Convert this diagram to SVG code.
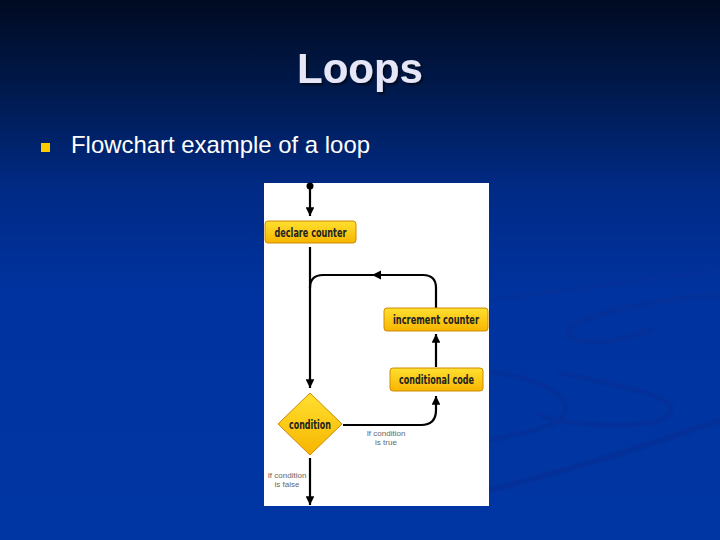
<svg xmlns="http://www.w3.org/2000/svg" width="720" height="540" viewBox="0 0 720 540">
<defs>
<linearGradient id="bg" x1="0" y1="0" x2="0" y2="1">
<stop offset="0" stop-color="#000a22"/>
<stop offset="0.15" stop-color="#001848"/>
<stop offset="0.35" stop-color="#002a85"/>
<stop offset="0.55" stop-color="#0033a0"/>
<stop offset="1" stop-color="#0036a3"/>
</linearGradient>
<linearGradient id="box" x1="0" y1="0" x2="0" y2="1">
<stop offset="0" stop-color="#ffe030"/>
<stop offset="1" stop-color="#f7b500"/>
</linearGradient>
<marker id="ah" viewBox="0 0 10 10" refX="10" refY="5" markerWidth="4" markerHeight="4" orient="auto" markerUnits="strokeWidth">
<path d="M0,0 L10,5 L0,10 z" fill="#000"/>
</marker>
<filter id="sh" x="-10%" y="-10%" width="130%" height="130%">
<feDropShadow dx="2" dy="2" stdDeviation="1" flood-color="#000" flood-opacity="0.6"/>
</filter>
</defs>
<style>
.node rect,.node polygon{fill:url(#box);stroke:#d08a00;stroke-width:1}
.lbl{font-family:"DejaVu Sans Condensed","Liberation Sans",sans-serif;font-weight:bold;font-size:12px;fill:#222;text-anchor:middle}
.edge{fill:none;stroke:#000;stroke-width:2.2}
.note{font-family:"Liberation Sans",sans-serif;font-size:8px;fill:#666;text-anchor:middle}
.swoosh{fill:none;stroke:#04309a;stroke-linecap:round}
</style>
<rect width="720" height="540" fill="url(#bg)"/>
<g id="swooshes">
<path class="swoosh" stroke-width="6" d="M720,295 C640,300 560,320 570,335 C575,345 610,345 650,330"/>
<path class="swoosh" stroke-width="5" d="M490,372 C560,380 585,410 550,425 C530,432 500,438 490,440"/>
<path class="swoosh" stroke-width="5" d="M560,373 C640,390 690,400 665,418 C640,430 560,425 540,415"/>
<path class="swoosh" stroke-width="6" d="M490,490 C570,470 650,445 720,420"/>
<path class="swoosh" stroke-width="4" d="M490,300 C560,290 640,280 720,270"/>
</g>
<text x="360" y="83" font-family="Liberation Sans,sans-serif" font-weight="bold" font-size="42" fill="#e6e6f8" text-anchor="middle" filter="url(#sh)">Loops</text>
<rect x="41" y="143" width="9" height="9" fill="#ffcc00"/>
<text x="71" y="153" font-family="Liberation Sans,sans-serif" font-size="24" fill="#ffffff" textLength="299" lengthAdjust="spacingAndGlyphs">Flowchart example of a loop</text>
<rect x="264" y="183" width="225" height="323" fill="#ffffff"/>
<g id="connectors">
<circle cx="310" cy="186" r="3.5" fill="#000"/>
<path class="edge" d="M310,186 V216" marker-end="url(#ah)"/>
<path class="edge" d="M310,247 V388" marker-end="url(#ah)"/>
<path class="edge" d="M436,308 V288 Q436,275 423,275 H323 Q310,275 310,288"/>
<path d="M372,275 L381,270.5 L381,279.5 z" fill="#000"/>
<path class="edge" d="M436,367 V334" marker-end="url(#ah)"/>
<path class="edge" d="M343,425 H421 Q436,425 436,410 V396" marker-end="url(#ah)"/>
<path class="edge" d="M310,458 V505" marker-end="url(#ah)"/>
</g>
<g id="declare" class="node">
<rect x="265" y="221" width="91" height="22" rx="3"/>
<text class="lbl" x="310.5" y="236.5" textLength="72" lengthAdjust="spacingAndGlyphs">declare counter</text>
</g>
<g id="increment" class="node">
<rect x="384" y="308" width="104" height="23" rx="3"/>
<text class="lbl" x="436" y="324" textLength="86" lengthAdjust="spacingAndGlyphs">increment counter</text>
</g>
<g id="conditional" class="node">
<rect x="390" y="368" width="93" height="23" rx="3"/>
<text class="lbl" x="436.5" y="384" textLength="75" lengthAdjust="spacingAndGlyphs">conditional code</text>
</g>
<g id="condition" class="node">
<polygon points="310,393 342,424 310,455 278,424"/>
<text class="lbl" x="310" y="428.5" textLength="42" lengthAdjust="spacingAndGlyphs">condition</text>
</g>
<text class="note" x="386" y="436">If condition</text>
<text class="note" x="386" y="445">is true</text>
<text class="note" x="287" y="478">If condition</text>
<text class="note" x="287" y="487">is false</text>
</svg>
